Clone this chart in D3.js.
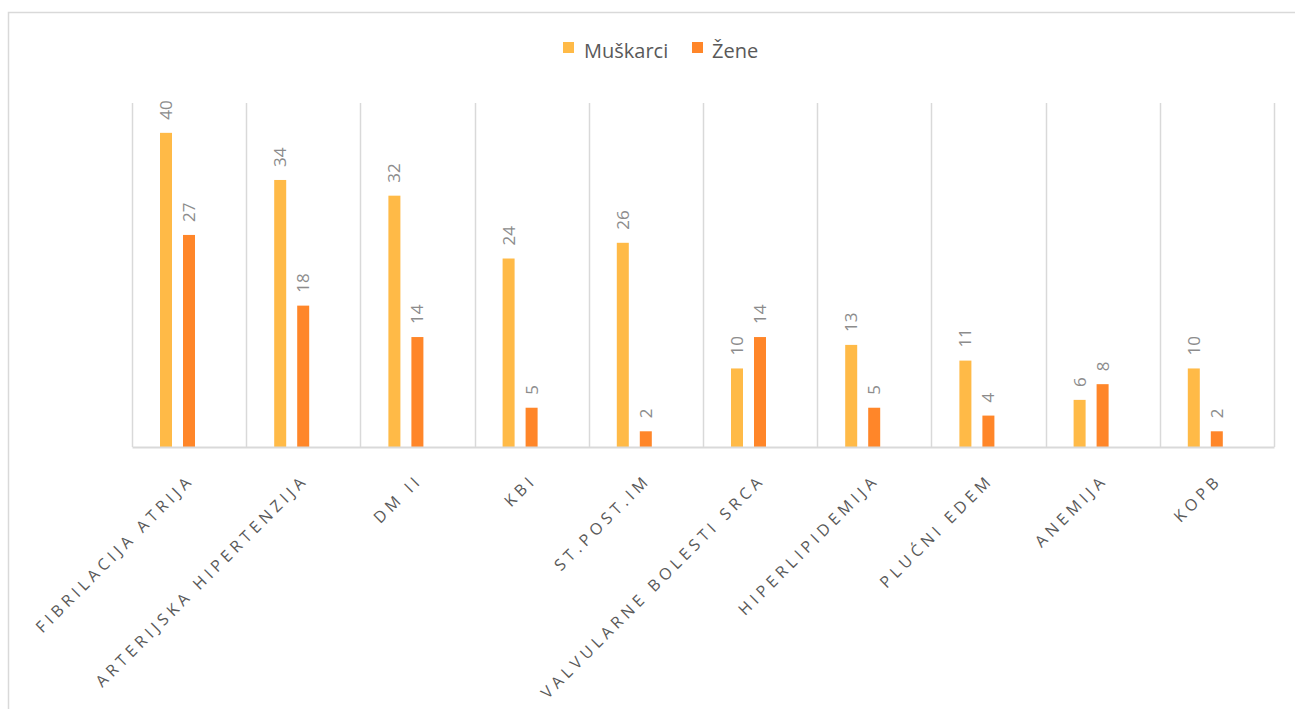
<!DOCTYPE html>
<html>
<head>
<meta charset="utf-8">
<script src="https://cdn.jsdelivr.net/npm/d3@7"></script>
<style>
  html, body { margin: 0; padding: 0; background: #fff; }
  svg { display: block; }
</style>
</head>
<body>
<svg id="chart" width="1295" height="709"></svg>
<script>
// Comorbidities by sex
const categories = [
  "FIBRILACIJA ATRIJA", "ARTERIJSKA HIPERTENZIJA", "DM II", "KBI", "ST.POST.IM",
  "VALVULARNE BOLESTI SRCA", "HIPERLIPIDEMIJA", "PLUĆNI EDEM", "ANEMIJA", "KOPB"
];
const seriesNames = ["Muškarci", "Žene"];
const muskarci = [40, 34, 32, 24, 26, 10, 13, 11, 6, 10];
const zene = [27, 18, 14, 5, 2, 14, 5, 4, 8, 2];
const seriesColors = ["#FFBA47", "#FF8629"];

const svg = d3.select("#chart");
const plot = { left: 132, right: 1274, top: 103, bottom: 447 };
const font = "'Open Sans', 'DejaVu Sans', sans-serif";

// Outer chart frame
svg.append("rect")
  .attr("x", 8.5).attr("y", 12.5)
  .attr("width", 1300).attr("height", 720)
  .attr("fill", "none").attr("stroke", "#d9d9d9").attr("stroke-width", 1.5);

const x = d3.scaleBand().domain(categories).range([plot.left, plot.right]).padding(0);
const y = d3.scaleLinear().domain([0, 43.8]).range([plot.bottom, plot.top]);

const barW = 12;
const offsets = [28, 51];

// Vertical category separators
const bounds = categories.map(c => x(c)).concat([plot.right]);
svg.append("g").selectAll("line").data(bounds).join("line")
  .attr("x1", d => Math.round(d) + 0.5).attr("x2", d => Math.round(d) + 0.5)
  .attr("y1", plot.top).attr("y2", plot.bottom)
  .attr("stroke", "#d9d9d9").attr("stroke-width", 1.5);

// Bars with rotated value labels
const seriesData = [muskarci, zene];
seriesData.forEach((vals, si) => {
  const g = svg.append("g");
  g.selectAll("rect").data(vals).join("rect")
    .attr("x", (d, i) => x(categories[i]) + offsets[si])
    .attr("y", d => y(d))
    .attr("width", barW)
    .attr("height", d => y(0) - y(d))
    .attr("fill", seriesColors[si]);
  g.selectAll("text").data(vals).join("text")
    .attr("transform", (d, i) => {
      const cx = x(categories[i]) + offsets[si] + barW / 2;
      const cy = y(d) - 13;
      return `translate(${cx + 6},${cy}) rotate(-90)`;
    })
    .attr("text-anchor", "start")
    .attr("font-family", font)
    .attr("font-size", 17)
    .attr("fill", "#8c8c8c")
    .text(d => d);
});

// Baseline axis
const xAxis = d3.axisBottom(x).tickSize(0).tickFormat(() => "");
const axG = svg.append("g").attr("transform", `translate(0,${plot.bottom})`).call(xAxis);
axG.select(".domain").attr("stroke", "#d9d9d9").attr("stroke-width", 2);

// Category labels at -45°
svg.append("g").selectAll("text").data(categories).join("text")
  .attr("transform", d => `translate(${x(d) + x.bandwidth() / 2 + 6},${plot.bottom + 34}) rotate(-45)`)
  .attr("text-anchor", "end")
  .attr("font-family", font)
  .attr("font-size", 16)
  .attr("letter-spacing", "4.4px")
  .attr("fill", "#595959")
  .text(d => d);

// Legend
const legend = svg.append("g");
const legendItems = [{ x: 563, tx: 584 }, { x: 692, tx: 712 }];
seriesNames.forEach((name, i) => {
  legend.append("rect")
    .attr("x", legendItems[i].x).attr("y", 42)
    .attr("width", 11).attr("height", 11)
    .attr("fill", seriesColors[i]);
  legend.append("text")
    .attr("x", legendItems[i].tx).attr("y", 58)
    .attr("font-family", font)
    .attr("font-size", 20)
    .attr("fill", "#595959")
    .text(name);
});
</script>
</body>
</html>
